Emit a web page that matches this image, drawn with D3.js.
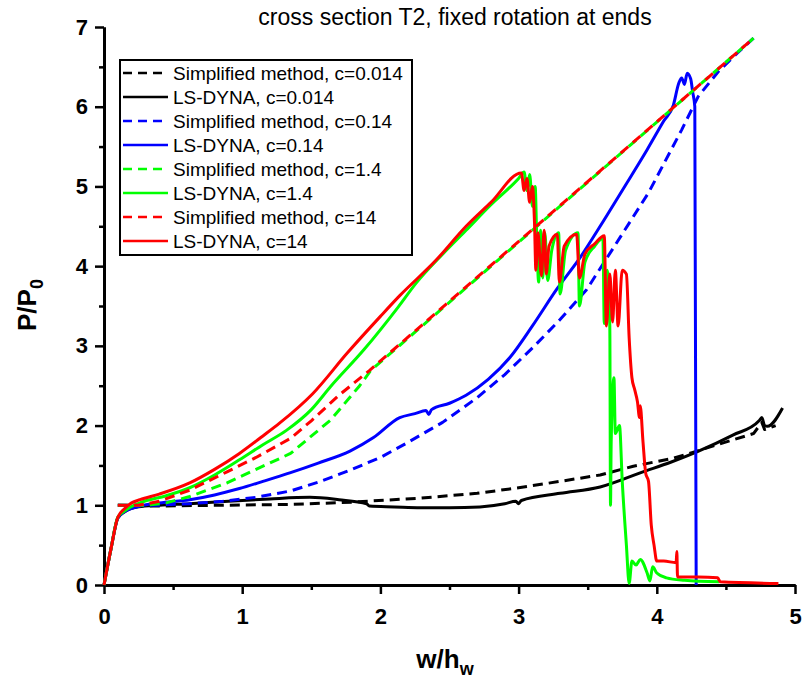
<!DOCTYPE html>
<html lang="en">
<head>
<meta charset="UTF-8" />
<title>cross section T2, fixed rotation at ends</title>
<style>
  body { margin: 0; background: #fff; }
  text { font-family: "Liberation Sans", Arial, sans-serif; }
</style>
</head>
<body>
<svg id="svg" width="804" height="683"></svg>

<script src="https://d3js.org/d3.v7.min.js"></script>
<script>
// values, [w/hw, P/P0]
const xTicks = [0, 1, 2, 3, 4, 5];
const xMinor = [0.5, 1.5, 2.5, 3.5, 4.5];
const yTicks = [0, 1, 2, 3, 4, 5, 6, 7];
const yMinor = [0.5, 1.5, 2.5, 3.5, 4.5, 5.5, 6.5];

const legendLabels = [
  "Simplified method, c=0.014",
  "LS-DYNA, c=0.014",
  "Simplified method, c=0.14",
  "LS-DYNA, c=0.14",
  "Simplified method, c=1.4",
  "LS-DYNA, c=1.4",
  "Simplified method, c=14",
  "LS-DYNA, c=14"
];

const simp0014 = [[0.1,1.0],[0.38,0.99],[0.8,1.0],[1.35,1.01],[1.8,1.04],[2.29,1.09],[2.7,1.15],
  [3.0,1.22],[3.3,1.3],[3.59,1.38],[3.83,1.49],[4.12,1.59],[4.29,1.68],[4.55,1.82],[4.7,1.9],
  [4.76,2.04],[4.78,1.95],[4.86,2.0]];

const dyna0014 = [[0,0],[0.05,0.45],[0.1,0.84],[0.15,0.92],[0.25,0.98],[0.4,1.0],[0.62,1.02],
  [0.9,1.05],[1.2,1.08],[1.49,1.1],[1.7,1.07],[1.9,1.02],[1.92,0.99],[2.1,0.98],[2.29,0.97],
  [2.5,0.97],[2.72,0.98],[2.9,1.02],[2.98,1.05],[3.0,1.02],[3.02,1.06],[3.3,1.15],[3.59,1.23],
  [3.9,1.42],[4.1,1.54],[4.29,1.67],[4.55,1.88],[4.74,2.06],[4.76,2.1],[4.78,2.0],[4.8,1.99],
  [4.91,2.22]];

const simp014 = [[0.1,1.0],[0.38,1.0],[0.62,1.02],[0.86,1.05],[1.1,1.1],[1.35,1.18],[1.55,1.29],
  [1.78,1.44],[2.0,1.6],[2.19,1.78],[2.45,2.04],[2.7,2.35],[2.9,2.64],[3.11,2.99],[3.3,3.33],
  [3.49,3.7],[3.69,4.24],[3.94,4.92],[4.18,5.71],[4.3,6.13],[4.45,6.45],[4.58,6.67],[4.7,6.86]];

const dyna014 = [[0,0],[0.05,0.45],[0.1,0.84],[0.15,0.92],[0.26,0.99],[0.4,1.03],[0.62,1.07],
  [0.8,1.13],[0.98,1.21],[1.15,1.3],[1.35,1.41],[1.55,1.53],[1.78,1.68],[1.95,1.85],[2.14,2.1],
  [2.25,2.15],[2.33,2.19],[2.35,2.14],[2.37,2.2],[2.5,2.28],[2.62,2.38],[2.78,2.58],[2.94,2.86],
  [3.1,3.25],[3.28,3.72],[3.45,4.12],[3.59,4.5],[3.75,4.95],[3.93,5.46],[4.05,5.82],[4.12,6.02],
  [4.16,6.3],[4.18,6.36],[4.2,6.28],[4.22,6.42],[4.245,6.35],[4.26,6.18],[4.275,6.0],[4.285,0.0]];

const simp14 = [[0.1,1.0],[0.3,1.0],[0.45,1.03],[0.62,1.11],[0.89,1.28],[1.1,1.45],[1.35,1.65],
  [1.64,2.07],[1.85,2.5],[1.93,2.69],[4.7,6.86]];

const dyna14 = [[0,0],[0.05,0.45],[0.1,0.85],[0.15,0.93],[0.26,1.03],[0.45,1.12],[0.62,1.22],
  [0.8,1.38],[0.98,1.57],[1.15,1.76],[1.32,1.94],[1.5,2.2],[1.64,2.49],[1.88,2.95],[2.13,3.49],
  [2.26,3.79],[2.45,4.15],[2.62,4.45],[2.8,4.77],[3.0,5.1],[3.04,5.18],[3.06,4.95],[3.08,5.15],
  [3.1,4.75],[3.12,5.0],[3.13,4.45],[3.145,3.8],[3.16,4.45],[3.175,3.85],[3.19,4.42],[3.21,3.82],
  [3.24,4.2],[3.29,4.42],[3.3,3.65],[3.34,4.2],[3.43,4.42],[3.44,3.5],[3.48,4.05],[3.55,4.25],
  [3.61,4.35],[3.62,3.28],[3.64,3.95],[3.66,3.25],[3.665,1.0],[3.67,1.8],[3.69,2.6],[3.7,1.9],
  [3.73,2.0],[3.75,1.3],[3.78,0.5],[3.8,0.02],[3.82,0.3],[3.85,0.25],[3.88,0.32],[3.93,0.15],
  [3.95,0.05],[3.97,0.23],[4.0,0.15],[4.07,0.09],[4.2,0.06],[4.45,0.04]];

const simp140 = [[0.1,1.0],[0.25,1.0],[0.4,1.05],[0.62,1.19],[0.89,1.42],[1.1,1.6],[1.35,1.84],
  [1.5,2.06],[1.7,2.38],[1.92,2.69],[4.7,6.86]];

const dyna140 = [[0,0],[0.05,0.45],[0.1,0.85],[0.15,0.96],[0.2,1.03],[0.26,1.07],[0.4,1.14],
  [0.62,1.28],[0.8,1.45],[0.98,1.65],[1.15,1.87],[1.27,2.03],[1.51,2.4],[1.76,2.91],[2.0,3.37],
  [2.14,3.63],[2.4,4.07],[2.62,4.5],[2.8,4.8],[3.02,5.17],[3.04,4.95],[3.06,5.1],[3.08,4.8],
  [3.1,5.0],[3.115,4.55],[3.125,3.95],[3.14,4.42],[3.165,3.88],[3.185,4.45],[3.2,3.9],[3.22,4.25],
  [3.28,4.4],[3.295,3.8],[3.33,4.25],[3.42,4.4],[3.44,3.85],[3.48,4.15],[3.55,4.28],[3.62,4.38],
  [3.635,3.25],[3.66,3.9],[3.68,3.3],[3.7,3.95],[3.72,3.25],[3.75,3.95],[3.78,3.9],[3.8,3.1],
  [3.82,2.6],[3.84,2.45],[3.86,2.3],[3.875,2.1],[3.88,2.25],[3.9,1.8],[3.92,1.4],[3.94,1.3],
  [3.96,0.75],[3.98,0.5],[4.0,0.3],[4.05,0.3],[4.14,0.28],[4.145,0.42],[4.15,0.1],[4.3,0.1],
  [4.44,0.09],[4.46,0.04],[4.88,0.02]];

const seriesData = [simp0014, dyna0014, simp014, dyna014, simp14, dyna14, simp140, dyna140];

const colorOf = d3.scaleOrdinal()
  .domain(d3.range(8))
  .range(["#000", "#000", "#0000ff", "#0000ff", "#00ff00", "#00ff00", "#ff0000", "#ff0000"]);
const isDashed = (i) => i % 2 === 0;

const svg = d3.select("#svg");
const x = d3.scaleLinear().domain([0, 5]).range([104, 795]);
const y = d3.scaleLinear().domain([0, 7]).range([585, 27]);

// minor ticks first, then major axis on top
const xAxisG = svg.append("g").attr("transform", "translate(0,585)");
xAxisG.append("g").call(d3.axisBottom(x).tickValues(xMinor).tickSize(5).tickFormat("").tickSizeOuter(0));
xAxisG.append("g").call(d3.axisBottom(x).tickValues(xTicks).tickSize(9).tickPadding(14)
  .tickFormat(d3.format("d")).tickSizeOuter(0));

const yAxisG = svg.append("g").attr("transform", "translate(104,0)");
yAxisG.append("g").call(d3.axisLeft(y).tickValues(yMinor).tickSize(5).tickFormat("").tickSizeOuter(0));
yAxisG.append("g").call(d3.axisLeft(y).tickValues(yTicks).tickSize(9).tickPadding(7)
  .tickFormat(d3.format("d")).tickSizeOuter(0));

svg.selectAll(".domain").attr("stroke", "#000").attr("stroke-width", 3);
svg.selectAll(".tick line").attr("stroke", "#000").attr("stroke-width", 2.5);
svg.selectAll(".tick text")
  .attr("fill", "#000")
  .style("font-family", "'Liberation Sans', Arial, sans-serif")
  .style("font-size", "22px")
  .style("font-weight", "bold");

// LS-DYNA curves smoothed, simplified method drawn straight between points
const smoothLine = d3.line()
  .curve(d3.curveMonotoneX)
  .x((d) => x(d[0]))
  .y((d) => y(d[1]));
const straightLine = d3.line()
  .x((d) => x(d[0]))
  .y((d) => y(d[1]));

svg.append("g")
  .selectAll("path")
  .data(seriesData)
  .enter()
  .append("path")
  .attr("d", (d, i) => (isDashed(i) ? straightLine(d) : smoothLine(d)))
  .attr("fill", "none")
  .attr("stroke", (d, i) => colorOf(i))
  .attr("stroke-width", 3)
  .attr("stroke-linejoin", "round")
  .attr("stroke-dasharray", (d, i) => (isDashed(i) ? "10,6" : null));

// legend
const leg = svg.append("g");
leg.append("rect")
  .attr("x", 120).attr("y", 60).attr("width", 292).attr("height", 195)
  .attr("fill", "#fff").attr("stroke", "#000").attr("stroke-width", 2);
const items = leg.selectAll("g.item")
  .data(legendLabels)
  .enter()
  .append("g")
  .attr("transform", (d, i) => `translate(0,${73 + i * 24})`);
items.append("line")
  .attr("x1", 123).attr("x2", 168)
  .attr("stroke", (d, i) => colorOf(i))
  .attr("stroke-width", 2.5)
  .attr("stroke-dasharray", (d, i) => (isDashed(i) ? "9,6" : null));
items.append("text")
  .attr("x", 173).attr("dy", "0.35em")
  .style("font-size", "19px")
  .text((d) => d);

// title and axis labels
svg.append("text")
  .attr("x", 455).attr("y", 25)
  .attr("text-anchor", "middle")
  .style("font-size", "23px")
  .text("cross section T2, fixed rotation at ends");

const xl = svg.append("text")
  .attr("x", 445).attr("y", 668)
  .attr("text-anchor", "middle")
  .style("font-size", "26px").style("font-weight", "bold");
xl.append("tspan").text("w/h");
xl.append("tspan").attr("dy", 7).style("font-size", "18px").text("w");

const yl = svg.append("text")
  .attr("transform", "translate(36,305) rotate(-90)")
  .attr("text-anchor", "middle")
  .style("font-size", "26px").style("font-weight", "bold");
yl.append("tspan").text("P/P");
yl.append("tspan").attr("dy", 7).style("font-size", "18px").text("0");
</script>
</body>
</html>
